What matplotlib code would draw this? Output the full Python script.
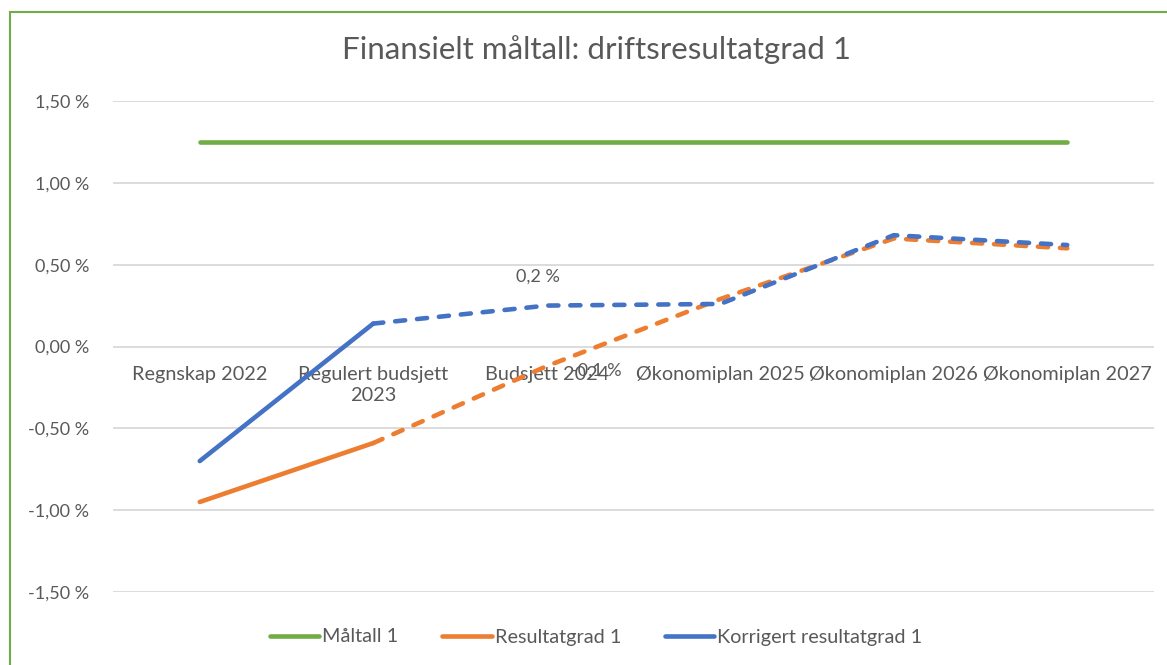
import numpy as np
import matplotlib.pyplot as plt
from matplotlib.patches import Rectangle
from matplotlib.lines import Line2D
from matplotlib.ticker import FuncFormatter

plt.rcParams['font.family'] = ['Lato', 'DejaVu Sans']

# data (percent)
categories = ['Regnskap 2022', 'Regulert budsjett\n2023', 'Budsjett 2024',
              'Økonomiplan 2025', 'Økonomiplan 2026', 'Økonomiplan 2027']
maltall = [1.25, 1.25, 1.25, 1.25, 1.25, 1.25]
resultatgrad = [-0.95, -0.59, -0.12, 0.29, 0.66, 0.60]
korrigert = [-0.70, 0.14, 0.25, 0.26, 0.68, 0.62]
series_names = ['Måltall 1', 'Resultatgrad 1', 'Korrigert resultatgrad 1']
label_texts = ['0,2 %', '-0,1 %']

green = '#70AD47'
orange = '#ED7D31'
blue = '#4472C4'
grey_txt = '#595959'
lw = 3.3

fig = plt.figure(figsize=(11.67, 6.65), dpi=100)
ax = fig.add_axes([113/1167, 1-592/665, (1154-113)/1167, (592-101)/665])

x = np.arange(len(categories))

ax.plot(x, maltall, color=green, lw=lw, solid_capstyle='round')

# first segment solid, the rest dashed
for vals, col in [(resultatgrad, orange), (korrigert, blue)]:
    ax.plot(x[:2], vals[:2], color=col, lw=lw, solid_capstyle='round')
    ax.plot(x[1:], vals[1:], color=col, lw=lw, dashes=(2.2, 2.6),
            dash_capstyle='round', solid_joinstyle='round')

ax.set_xlim(-0.5, len(categories) - 0.5)
ax.set_ylim(-1.5, 1.5)
ax.set_yticks(np.arange(-1.5, 1.51, 0.5))
ax.yaxis.set_major_formatter(FuncFormatter(lambda v, p: f"{v:.2f}".replace('.', ',') + ' %'))
ax.grid(axis='y', color='#D9D9D9', lw=1.3)
ax.set_axisbelow(True)
for s in ['top', 'right', 'left']:
    ax.spines[s].set_visible(False)
ax.spines['bottom'].set_position(('data', 0))
ax.spines['bottom'].set_visible(False)
ax.set_xticks(x)
ax.set_xticklabels(categories, linespacing=1.3)
ax.tick_params(axis='x', length=0, pad=14, labelsize=14.3, labelcolor=grey_txt)
ax.tick_params(axis='y', length=0, pad=17, labelsize=13, labelcolor=grey_txt)

# data labels at Budsjett 2024
ax.annotate(label_texts[0], (x[2], korrigert[2]), xytext=(-6, 21), textcoords='offset points',
            ha='center', va='center', fontsize=13, color=grey_txt)
ax.annotate(label_texts[1], (x[2], resultatgrad[2]), xytext=(36, -3), textcoords='offset points',
            ha='center', va='center', fontsize=13, color=grey_txt)

fig.text(596/1167, 1-50/665, 'Finansielt måltall: driftsresultatgrad 1', ha='center', va='center',
         fontsize=22.6, color=grey_txt)

handles = [Line2D([], [], color=c, lw=lw, solid_capstyle='round') for c in [green, orange, blue]]
fig.legend(handles, series_names, loc='center', bbox_to_anchor=(596/1167, 1-637/665), ncol=3,
           frameon=False, fontsize=14.3, labelcolor=grey_txt, handlelength=2.5,
           handletextpad=0.15, columnspacing=2.2)

fig.patches.append(Rectangle((10/1167, -0.1), 1.2, 1-12/665+0.1, transform=fig.transFigure,
                             fill=False, edgecolor=green, lw=1.5, clip_on=False))

fig.savefig('out.png', dpi=100)
